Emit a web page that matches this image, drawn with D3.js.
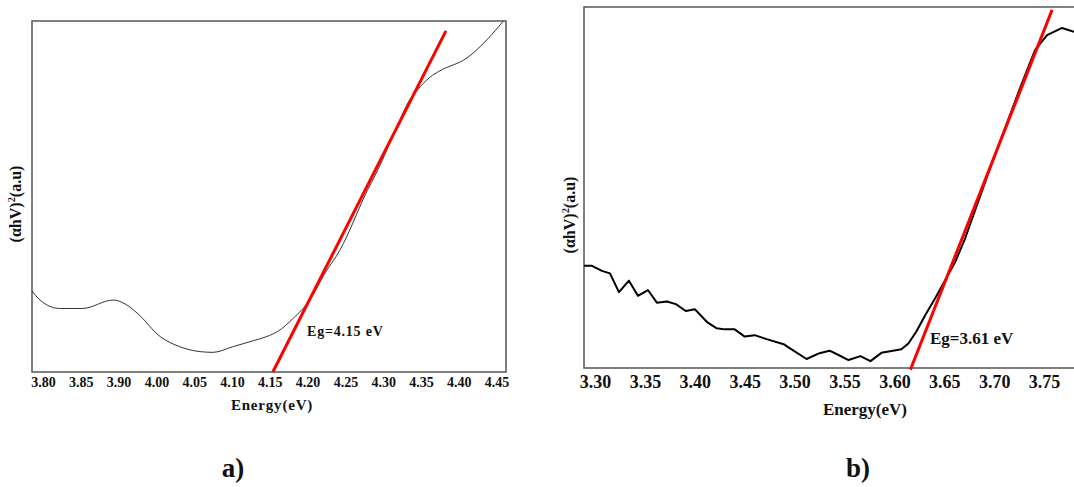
<!DOCTYPE html>
<html>
<head>
<meta charset="utf-8">
<script src="https://cdn.jsdelivr.net/npm/d3@7"></script>
<style>
  body { margin: 0; background: #fff; }
  svg { display: block; font-family: "Liberation Serif", "Times New Roman", serif; font-weight: bold; }
</style>
</head>
<body>
<div id="chart"></div>
<script>
// Panel a) data (energy in eV, absorption in arbitrary units)
const energyA = [3.785, 3.796, 3.822, 3.852, 3.893, 3.917, 3.949, 4.005, 4.031, 4.058,
    4.075, 4.101, 4.128, 4.146, 4.160, 4.181, 4.203, 4.223, 4.243, 4.260,
    4.273, 4.296, 4.318, 4.335, 4.345, 4.362, 4.375, 4.411, 4.437, 4.459];
const absorbA = [23.2, 20.5, 18.1, 18.1, 20.5, 19.4, 16.8, 10.1, 7.2, 5.8,
    5.6, 7.2, 8.9, 10.1, 11.5, 15.3, 20.5, 28.2, 34.8, 42.5,
    49.0, 59.0, 69.8, 77.5, 80.3, 84.0, 85.8, 89.5, 94.6, 100];
const ticksA = [3.80, 3.85, 3.90, 4.00, 4.05, 4.10, 4.15, 4.20, 4.25, 4.30, 4.35, 4.40, 4.45];
const fitA = [[4.154, 0], [4.383, 97.2]];

// Panel b) data
const energyB = [3.289, 3.297, 3.307, 3.315, 3.324, 3.334, 3.343, 3.353, 3.362, 3.372,
    3.381, 3.391, 3.400, 3.412, 3.422, 3.430, 3.440, 3.450, 3.460, 3.472,
    3.489, 3.495, 3.512, 3.525, 3.535, 3.544, 3.554, 3.566, 3.576, 3.587,
    3.597, 3.607, 3.614, 3.622, 3.631, 3.641, 3.651, 3.661, 3.671, 3.681,
    3.696, 3.711, 3.726, 3.741, 3.753, 3.768, 3.780];
const absorbB = [28.3, 28.3, 26.9, 26.2, 21.0, 24.2, 20.0, 21.6, 18.1, 18.4,
    17.7, 15.8, 16.3, 12.8, 11.0, 10.7, 10.7, 8.7, 9.1, 8.0,
    6.6, 5.5, 2.5, 4.1, 4.8, 3.6, 2.2, 3.3, 1.9, 4.2,
    4.7, 5.2, 6.8, 10.1, 14.7, 19.4, 24.4, 29.4, 36.0, 43.8,
    55.4, 66.5, 77.6, 88.1, 92.2, 94.2, 93.1];
const ticksB = [3.30, 3.35, 3.40, 3.45, 3.50, 3.55, 3.60, 3.65, 3.70, 3.75];
const fitB = [[3.616, -0.5], [3.758, 99.2]];

const svg = d3.select('#chart')
    .append('svg')
    .attr('width', 1074)
    .attr('height', 487);

// the a) axis skips 3.95, so its labels sit at even steps
const stepA = 37.8;
const xA = d3.scaleLinear()
    .domain([3.80, 3.90, 4.00, 4.45])
    .range([43, 43 + 2 * stepA, 43 + 3 * stepA, 43 + 12 * stepA]);
const yA = d3.scaleLinear().domain([0, 100]).range([372, 21]);

const xB = d3.scaleLinear().domain([3.30, 3.75]).range([595, 1044.1]);
const yB = d3.scaleLinear().domain([0, 100]).range([368, 7]);

function drawPanel(opt) {
    const g = svg.append('g');

    // frame
    g.append('rect')
        .attr('x', opt.box[0])
        .attr('y', opt.box[1])
        .attr('width', opt.box[2] - opt.box[0])
        .attr('height', opt.box[3] - opt.box[1])
        .attr('fill', 'none')
        .attr('stroke', '#555')
        .attr('stroke-width', 1.5);

    const axis = d3.axisBottom(opt.x)
        .tickValues(opt.ticks)
        .tickFormat(d3.format('.2f'))
        .tickSize(0)
        .tickPadding(opt.pad);

    const ax = g.append('g')
        .attr('transform', `translate(0, ${opt.box[3]})`)
        .call(axis);
    ax.select('.domain').remove();
    ax.selectAll('text')
        .attr('font-family', '"Liberation Serif", serif')
        .attr('font-weight', 'bold')
        .attr('font-size', opt.tickSize)
        .attr('fill', '#111');

    const line = d3.line()
        .curve(opt.curve)
        .x(d => opt.x(d[0]))
        .y(d => opt.y(d[1]));

    g.append('path')
        .datum(d3.zip(opt.energy, opt.absorb))
        .attr('fill', 'none')
        .attr('stroke', opt.curveColor)
        .attr('stroke-width', opt.curveWidth)
        .attr('stroke-linejoin', 'round')
        .attr('d', line);

    g.append('path')
        .datum(opt.fit)
        .attr('fill', 'none')
        .attr('stroke', '#ff0000')
        .attr('stroke-width', 3)
        .attr('d', d3.line().x(d => opt.x(d[0])).y(d => opt.y(d[1])));

    g.append('text')
        .attr('x', opt.eg[0])
        .attr('y', opt.eg[1])
        .attr('font-size', opt.egSize)
        .attr('letter-spacing', opt.egSpacing)
        .attr('fill', '#111')
        .text(opt.egText);

    g.append('text')
        .attr('x', opt.title[0])
        .attr('y', opt.title[1])
        .attr('text-anchor', 'middle')
        .attr('font-size', opt.titleSize)
        .attr('letter-spacing', opt.egSpacing)
        .attr('fill', '#111')
        .text('Energy(eV)');

    const yl = g.append('text')
        .attr('transform', `translate(${opt.ylab[0]}, ${opt.ylab[1]}) rotate(-90)`)
        .attr('text-anchor', 'middle')
        .attr('font-size', opt.ylabSize)
        .attr('fill', '#111');
    yl.append('tspan').text('(αhV)');
    yl.append('tspan').attr('dy', -6).attr('font-size', opt.ylabSize * 0.65).text('2');
    yl.append('tspan').attr('dy', 6).text('(a.u)');

    g.append('text')
        .attr('x', opt.tag[0])
        .attr('y', opt.tag[1])
        .attr('text-anchor', 'middle')
        .attr('font-size', 27)
        .attr('fill', '#111')
        .text(opt.tagText);
}

drawPanel({
    box: [32, 21, 506, 372],
    x: xA, y: yA, ticks: ticksA, pad: 5, tickSize: 14,
    energy: energyA, absorb: absorbA, fit: fitA,
    curve: d3.curveMonotoneX, curveColor: '#333', curveWidth: 1,
    eg: [307, 336], egText: 'Eg=4.15 eV', egSize: 14, egSpacing: 0.8,
    title: [272, 410], titleSize: 15,
    ylab: [21, 204], ylabSize: 16,
    tag: [233, 477], tagText: 'a)'
});

drawPanel({
    box: [584, 7, 1100, 368],
    x: xB, y: yB, ticks: ticksB, pad: 7, tickSize: 18,
    energy: energyB, absorb: absorbB, fit: fitB,
    curve: d3.curveLinear, curveColor: '#000', curveWidth: 2,
    eg: [930, 344], egText: 'Eg=3.61 eV', egSize: 17, egSpacing: 0,
    title: [865, 415], titleSize: 17,
    ylab: [575, 215], ylabSize: 16,
    tag: [858, 477], tagText: 'b)'
});
</script>
</body>
</html>
